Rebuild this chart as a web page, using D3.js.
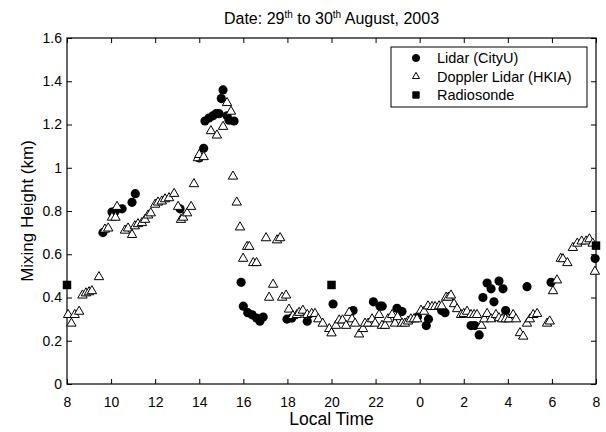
<!DOCTYPE html>
<html>
<head>
<meta charset="utf-8">
<script src="https://cdn.jsdelivr.net/npm/d3@7"></script>
<style>
  body { margin: 0; background: #fff; }
  text { font-family: "Liberation Sans", Arial, sans-serif; fill: #000; }
</style>
</head>
<body>
<div id="app"></div>
<script>
// hours counted from midnight of the 29th, so next-day times go past 24
const lidarTime = [9.63, 10.04, 10.2, 10.5, 10.95, 11.1, 13.13, 14.0, 14.2, 14.26, 14.44, 14.62, 14.76, 14.9,
  15.0, 15.08, 15.26, 15.35, 15.58, 15.9, 16.0, 16.2, 16.4, 16.6, 16.75, 16.9, 17.98, 18.2, 18.9, 20.07,
  20.98, 21.9, 22.2, 22.3, 22.97, 23.2, 23.9, 24.3, 24.4, 25.0, 25.15, 26.33, 26.5, 26.7, 26.87, 27.06,
  27.24, 27.37, 27.6, 27.78, 27.9, 28.87, 29.96, 31.96]
const lidarHeight = [0.70, 0.795, 0.80, 0.81, 0.84, 0.88, 0.81, 1.045, 1.09, 1.216, 1.23, 1.24, 1.25, 1.25,
  1.32, 1.36, 1.24, 1.22, 1.216, 0.47, 0.36, 0.33, 0.32, 0.305, 0.29, 0.31, 0.30, 0.305, 0.29, 0.37,
  0.34, 0.38, 0.36, 0.36, 0.35, 0.335, 0.31, 0.27, 0.30, 0.34, 0.33, 0.27, 0.27, 0.227, 0.40, 0.467,
  0.44, 0.38, 0.476, 0.44, 0.34, 0.45, 0.47, 0.58]

const dopplerTime = [8.05, 8.2, 8.35, 8.55, 8.7, 8.86, 9.0, 9.13, 9.45, 9.72, 9.87, 10.04, 10.2, 10.27,
  10.63, 10.77, 10.95, 11.08, 11.22, 11.4, 11.54, 11.68, 11.8, 12.0, 12.13, 12.3, 12.45, 12.63, 12.86,
  13.04, 13.17, 13.27, 13.45, 13.63, 13.76, 13.94, 14.0, 14.2, 14.53, 14.8, 15.08, 15.26, 15.44, 15.53,
  15.7, 15.85, 15.99, 16.17, 16.27, 16.45, 16.6, 17.03, 17.17, 17.35, 17.53, 17.67, 17.76, 17.94, 18.07,
  18.25, 18.43, 18.53, 18.7, 18.9, 19.1, 19.25, 19.4, 19.6, 19.9, 20.0, 20.2, 20.35, 20.5, 20.66, 20.8,
  20.93, 21.07, 21.25, 21.43, 21.52, 21.66, 21.84, 21.98, 22.16, 22.29, 22.43, 22.56, 22.75, 22.88, 23.0,
  23.2, 23.33, 23.47, 23.6, 23.74, 23.88, 24.06, 24.2, 24.38, 24.56, 24.7, 24.88, 25.0, 25.2, 25.3, 25.42,
  25.56, 25.7, 25.88, 26.0, 26.15, 26.33, 26.47, 26.6, 26.8, 26.93, 27.06, 27.24, 27.46, 27.6, 27.74,
  27.9, 28.05, 28.24, 28.37, 28.55, 28.7, 28.87, 29.0, 29.15, 29.33, 29.78, 29.9, 30.05, 30.23, 30.4,
  30.5, 30.7, 30.95, 31.15, 31.35, 31.55, 31.7, 31.85, 31.95]
const dopplerHeight = [0.32, 0.28, 0.32, 0.335, 0.41, 0.42, 0.425, 0.43, 0.495, 0.715, 0.72, 0.77, 0.77, 0.82,
  0.71, 0.72, 0.69, 0.73, 0.74, 0.745, 0.76, 0.78, 0.79, 0.83, 0.84, 0.845, 0.855, 0.86, 0.88,
  0.82, 0.76, 0.77, 0.79, 0.82, 0.925, 1.045, 1.06, 1.05, 1.17, 1.15, 1.19, 1.30, 1.26, 0.96,
  0.84, 0.725, 0.58, 0.635, 0.635, 0.56, 0.56, 0.675, 0.40, 0.46, 0.665, 0.675, 0.40, 0.41, 0.345,
  0.315, 0.32, 0.33, 0.34, 0.32, 0.325, 0.325, 0.30, 0.28, 0.255, 0.235, 0.27, 0.295, 0.295, 0.27, 0.33,
  0.30, 0.28, 0.23, 0.255, 0.28, 0.28, 0.30, 0.28, 0.32, 0.27, 0.27, 0.30, 0.32, 0.28, 0.31,
  0.28, 0.28, 0.29, 0.30, 0.30, 0.30, 0.34, 0.335, 0.36, 0.357, 0.357, 0.36, 0.36, 0.40, 0.40, 0.41,
  0.37, 0.347, 0.32, 0.325, 0.335, 0.32, 0.32, 0.32, 0.27, 0.30, 0.325, 0.30, 0.32, 0.305, 0.30,
  0.30, 0.30, 0.32, 0.30, 0.236, 0.22, 0.28, 0.30, 0.32, 0.325, 0.28, 0.29, 0.43, 0.48, 0.58,
  0.578, 0.56, 0.63, 0.65, 0.66, 0.66, 0.67, 0.65, 0.52]

const sondeTime = [8, 20, 32]
const sondeHeight = [0.458, 0.458, 0.64]

const xTicks = d3.range(8, 33, 2)
const yTicks = d3.range(0, 1.61, 0.2)

const margin = { top: 38, right: 10, bottom: 48, left: 67 }
const width = 606 - margin.left - margin.right
const height = 432 - margin.top - margin.bottom

const svg = d3.select('#app').append('svg')
  .attr('width', 606)
  .attr('height', 432)

const g = svg.append('g')
  .attr('transform', `translate(${margin.left},${margin.top})`)

const x = d3.scaleLinear().domain([8, 32]).range([0, width])
const y = d3.scaleLinear().domain([0, 1.6]).range([height, 0])

const fmtX = d => String(d % 24)
const fmtY = d => String(+d.toFixed(1))

/*
* MATLAB style box: ticks point inward on all four sides,
* labels only on the bottom and left
*/
const tick = 5
g.append('g')
  .attr('transform', `translate(0,${height})`)
  .call(d3.axisBottom(x).tickValues(xTicks).tickFormat(fmtX).tickSizeInner(-tick).tickSizeOuter(0).tickPadding(13))
g.append('g')
  .call(d3.axisTop(x).tickValues(xTicks).tickFormat('').tickSizeInner(-tick).tickSizeOuter(0))
g.append('g')
  .call(d3.axisLeft(y).tickValues(yTicks).tickFormat(fmtY).tickSizeInner(-tick).tickSizeOuter(0).tickPadding(5))
g.append('g')
  .attr('transform', `translate(${width},0)`)
  .call(d3.axisRight(y).tickValues(yTicks).tickFormat('').tickSizeInner(-tick).tickSizeOuter(0))

g.selectAll('.domain').remove()
g.selectAll('.tick line').attr('stroke', '#000')
g.selectAll('.tick text').attr('font-size', 14).attr('fill', '#000')
  .style('font-family', '"Liberation Sans", Arial, sans-serif')

g.append('rect')
  .attr('width', width)
  .attr('height', height)
  .attr('fill', 'none')
  .attr('stroke', '#000')
  .attr('stroke-width', 1.2)

const lidar = lidarTime.map((t, i) => ({ t, h: lidarHeight[i] }))
const doppler = dopplerTime.map((t, i) => ({ t, h: dopplerHeight[i] }))
const sonde = sondeTime.map((t, i) => ({ t, h: sondeHeight[i] }))

const circle = d3.symbol().type(d3.symbolCircle).size(66)
const tri = d3.symbol().type(d3.symbolTriangle).size(38)
const square = d3.symbol().type(d3.symbolSquare).size(72)

g.selectAll('path.lidar')
  .data(lidar)
  .enter().append('path')
  .attr('class', 'lidar')
  .attr('d', circle)
  .attr('transform', d => `translate(${x(d.t)},${y(d.h)})`)
  .attr('fill', '#000')

g.selectAll('path.doppler')
  .data(doppler)
  .enter().append('path')
  .attr('class', 'doppler')
  .attr('d', tri)
  .attr('transform', d => `translate(${x(d.t)},${y(d.h)})`)
  .attr('fill', '#fff')
  .attr('stroke', '#000')
  .attr('stroke-width', 1)

g.selectAll('path.sonde')
  .data(sonde)
  .enter().append('path')
  .attr('class', 'sonde')
  .attr('d', square)
  .attr('transform', d => `translate(${x(d.t)},${y(d.h)})`)
  .attr('fill', '#000')

// legend
const legend = svg.append('g').attr('transform', 'translate(391,47)')
legend.append('rect')
  .attr('width', 196)
  .attr('height', 60)
  .attr('fill', '#fff')
  .attr('stroke', '#000')
const items = [
  { label: 'Lidar (CityU)', sym: d3.symbol().type(d3.symbolCircle).size(40), fill: '#000' },
  { label: 'Doppler Lidar (HKIA)', sym: d3.symbol().type(d3.symbolTriangle).size(22), fill: '#fff' },
  { label: 'Radiosonde', sym: d3.symbol().type(d3.symbolSquare).size(40), fill: '#000' },
]
items.forEach((it, i) => {
  const row = legend.append('g').attr('transform', `translate(0,${11 + i * 18.5})`)
  row.append('path')
    .attr('d', it.sym)
    .attr('transform', 'translate(25,0)')
    .attr('fill', it.fill)
    .attr('stroke', '#000')
  row.append('text')
    .attr('x', 46)
    .attr('dy', '0.35em')
    .attr('font-size', 14.5)
    .text(it.label)
})

// title with superscripts
const title = svg.append('text')
  .attr('x', margin.left + width / 2)
  .attr('y', 24)
  .attr('text-anchor', 'middle')
  .attr('font-size', 16)
title.append('tspan').text('Date: 29')
title.append('tspan').attr('font-size', 10).attr('dy', -6).text('th')
title.append('tspan').attr('dy', 6).text(' to 30')
title.append('tspan').attr('font-size', 10).attr('dy', -6).text('th')
title.append('tspan').attr('dy', 6).text(' August, 2003')

svg.append('text')
  .attr('x', margin.left + width / 2)
  .attr('y', 425)
  .attr('text-anchor', 'middle')
  .attr('font-size', 17.5)
  .text('Local Time')

svg.append('text')
  .attr('transform', `translate(33,${margin.top + height / 2}) rotate(-90)`)
  .attr('text-anchor', 'middle')
  .attr('font-size', 17)
  .text('Mixing Height (km)')
</script>
</body>
</html>
